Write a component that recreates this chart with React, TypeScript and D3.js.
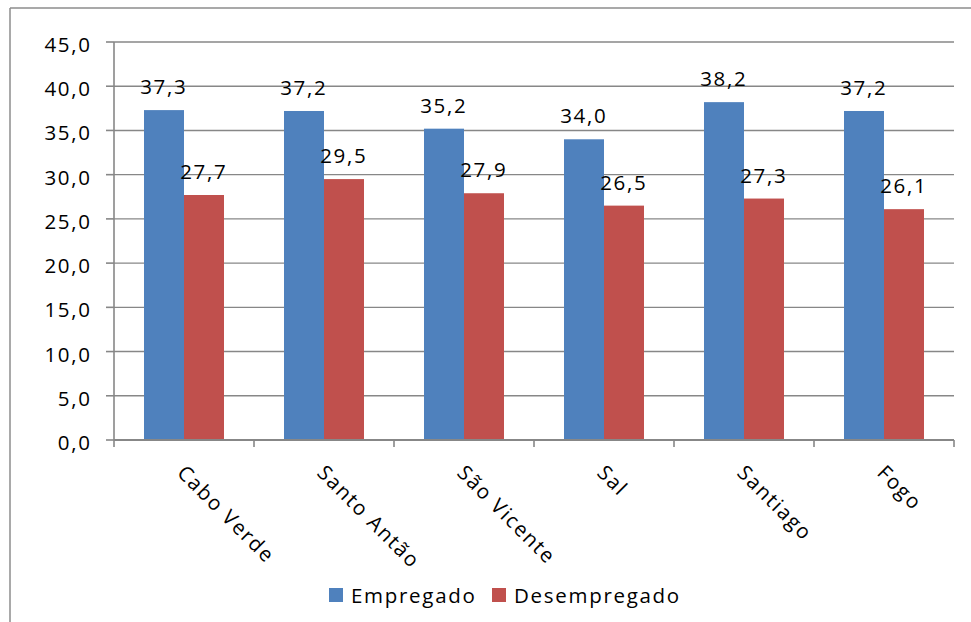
import React from "react";
import * as d3 from "d3";

const categories = ["Cabo Verde", "Santo Antão", "São Vicente", "Sal", "Santiago", "Fogo"];
const seriesNames = ["Empregado", "Desempregado"];
const empregado = [37.3, 37.2, 35.2, 34.0, 38.2, 37.2];
const desempregado = [27.7, 29.5, 27.9, 26.5, 27.3, 26.1];
const yTicks = [0, 5, 10, 15, 20, 25, 30, 35, 40, 45];
const colors = ["#4F81BD", "#C0504D"];

const W = 971;
const H = 622;
const FONT = "'Open Sans', sans-serif";
const FS = 20.5;
const LS = 1.7;

const fmt = (v: number) => v.toFixed(1).replace(".", ",");

export default function App() {
  const left = 114;
  const right = 954;
  const top = 42;
  const bottom = 440;
  const y = d3.scaleLinear().domain([0, 45]).range([bottom, top]);
  const x0 = d3.scaleBand<string>().domain(categories).range([left, right]).padding(0);
  const x1 = d3
    .scaleBand<string>()
    .domain(seriesNames)
    .range([0, x0.step()])
    .paddingInner(0)
    .paddingOuter(0.75);
  const series = [empregado, desempregado];
  const grid = "#878787";

  return (
    <svg
      width={W}
      height={H}
      style={{ position: "absolute", left: 0, top: 0, background: "#fff" }}
      fontFamily={FONT}
    >
      <rect x={0} y={0} width={W} height={H} fill="#fff" />
      {/* outer frame */}
      <line x1={10} y1={8} x2={W} y2={8} stroke="#8c8c8c" strokeWidth={1.5} />
      <line x1={10} y1={8} x2={10} y2={H} stroke="#8c8c8c" strokeWidth={1.5} />

      {/* gridlines */}
      {yTicks.map((t) => (
        <g key={t}>
          {t > 0 && (
            <line x1={left} x2={right} y1={y(t)} y2={y(t)} stroke={grid} strokeWidth={1.4} />
          )}
          <line x1={left - 8} x2={left} y1={y(t)} y2={y(t)} stroke={grid} strokeWidth={1.6} />
          <text
            x={90 + LS}
            y={y(t) + 10}
            textAnchor="end"
            fontSize={FS}
            letterSpacing={LS}
            fill="#000"
          >
            {fmt(t)}
          </text>
        </g>
      ))}

      {/* bars */}
      {categories.map((c, i) => (
        <g key={c}>
          {series.map((s, j) => {
            const bx = (x0(c) as number) + (x1(seriesNames[j]) as number);
            return (
              <rect
                key={j}
                x={bx}
                y={y(s[i])}
                width={x1.bandwidth()}
                height={y(0) - y(s[i])}
                fill={colors[j]}
              />
            );
          })}
          {series.map((s, j) => {
            const bx = (x0(c) as number) + (x1(seriesNames[j]) as number) + x1.bandwidth() / 2;
            return (
              <text
                key={"l" + j}
                x={bx + LS / 2 - 1}
                y={y(s[i]) - 16}
                textAnchor="middle"
                fontSize={FS}
                letterSpacing={LS}
                fill="#000"
              >
                {fmt(s[i])}
              </text>
            );
          })}
        </g>
      ))}

      {/* axes */}
      <line x1={left} x2={left} y1={top} y2={bottom + 7} stroke={grid} strokeWidth={1.6} />
      <line x1={left} x2={right} y1={bottom} y2={bottom} stroke={grid} strokeWidth={2.2} />
      {categories.map((c, i) => (
        <line
          key={"t" + i}
          x1={(x0(c) as number) + x0.step()}
          x2={(x0(c) as number) + x0.step()}
          y1={bottom}
          y2={bottom + 7}
          stroke={grid}
          strokeWidth={1.6}
        />
      ))}

      {/* category labels */}
      {categories.map((c) => {
        const cx = (x0(c) as number) + x0.bandwidth() / 2;
        const tx = cx - 8;
        const ty = bottom + 34;
        return (
          <text
            key={"c" + c}
            x={tx}
            y={ty}
            transform={`rotate(45 ${tx} ${ty})`}
            textAnchor="start"
            fontSize={FS}
            letterSpacing={LS}
            fill="#000"
          >
            {c}
          </text>
        );
      })}

      {/* legend */}
      {seriesNames.map((n, j) => {
        const lx = j === 0 ? 329 : 492;
        return (
          <g key={"lg" + n}>
            <rect x={lx} y={588} width={14} height={14} fill={colors[j]} />
            <text x={lx + 22} y={603} fontSize={FS} letterSpacing={LS} fill="#000">
              {n}
            </text>
          </g>
        );
      })}
    </svg>
  );
}
